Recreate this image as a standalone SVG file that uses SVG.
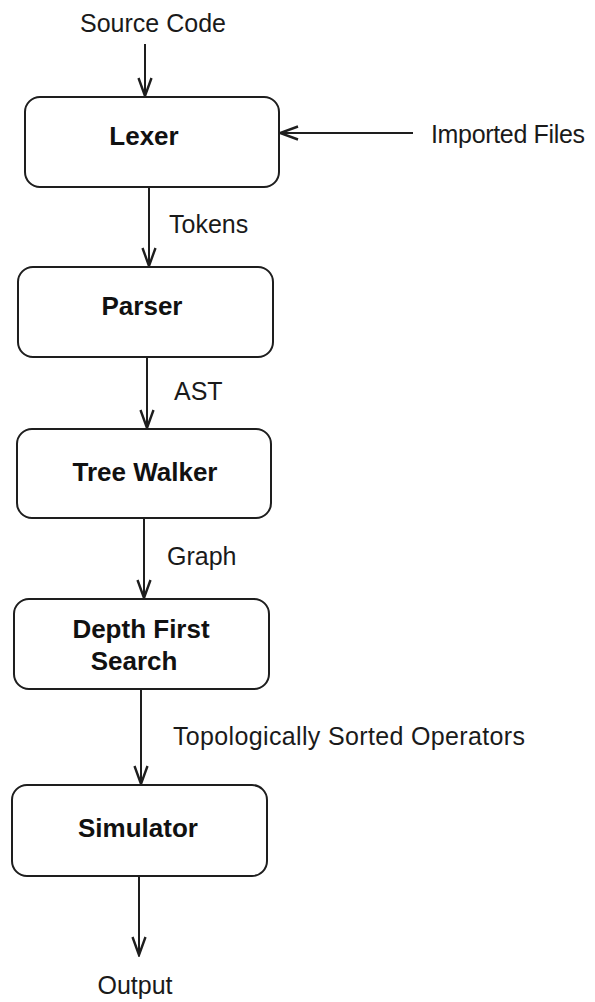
<svg xmlns="http://www.w3.org/2000/svg" width="595" height="1002" viewBox="0 0 595 1002">
  <style>
    .box { fill: #ffffff; stroke: #1e1e1e; stroke-width: 2; }
    .title { font-family: "Liberation Sans", Arial, sans-serif; font-size: 26px; font-weight: bold; fill: #111; text-anchor: middle; }
    .lbl { font-family: "Liberation Sans", Arial, sans-serif; font-size: 25px; fill: #1a1a1a; }
    .edge { stroke: #1e1e1e; stroke-width: 2; fill: none; marker-end: url(#vee); }
  </style>
  <defs>
    <marker id="vee" markerUnits="userSpaceOnUse" markerWidth="22" markerHeight="20" viewBox="-20 -9 22 18" refX="0" refY="0" orient="auto">
      <path d="M-18,-6.5 L0,0 L-18,6.5" fill="none" stroke="#1e1e1e" stroke-width="2.4"/>
    </marker>
  </defs>

  <rect width="595" height="1002" fill="#ffffff"/>

  <g id="connectors">
    <line class="edge" x1="145" y1="44" x2="145" y2="96"/>
    <line class="edge" x1="413" y1="133" x2="280" y2="133"/>
    <line class="edge" x1="149" y1="187" x2="149" y2="266"/>
    <line class="edge" x1="147" y1="357" x2="147" y2="428"/>
    <line class="edge" x1="144" y1="519" x2="144" y2="598"/>
    <line class="edge" x1="141" y1="689" x2="141" y2="784"/>
    <line class="edge" x1="139" y1="876" x2="139" y2="955"/>
    <text class="lbl" x="153" y="32" text-anchor="middle">Source Code</text>
    <text class="lbl" x="431" y="143" textLength="154">Imported Files</text>
    <text class="lbl" x="169" y="233">Tokens</text>
    <text class="lbl" x="174" y="400">AST</text>
    <text class="lbl" x="167" y="565">Graph</text>
    <text class="lbl" x="173" y="745" textLength="352">Topologically Sorted Operators</text>
    <text class="lbl" x="135" y="994" text-anchor="middle">Output</text>
  </g>

  <g id="lexer">
    <rect class="box" x="25" y="97" width="254" height="90" rx="15" ry="15"/>
    <text class="title" x="144" y="145">Lexer</text>
  </g>

  <g id="parser">
    <rect class="box" x="18" y="267" width="255" height="90" rx="15" ry="15"/>
    <text class="title" x="142" y="315">Parser</text>
  </g>

  <g id="tree-walker">
    <rect class="box" x="17" y="429" width="254" height="89" rx="15" ry="15"/>
    <text class="title" x="145" y="481">Tree Walker</text>
  </g>

  <g id="depth-first-search">
    <rect class="box" x="14" y="599" width="255" height="90" rx="15" ry="15"/>
    <text class="title" x="141" y="638">Depth First</text>
    <text class="title" x="134" y="670">Search</text>
  </g>

  <g id="simulator">
    <rect class="box" x="12" y="785" width="255" height="91" rx="15" ry="15"/>
    <text class="title" x="138" y="837">Simulator</text>
  </g>
</svg>
